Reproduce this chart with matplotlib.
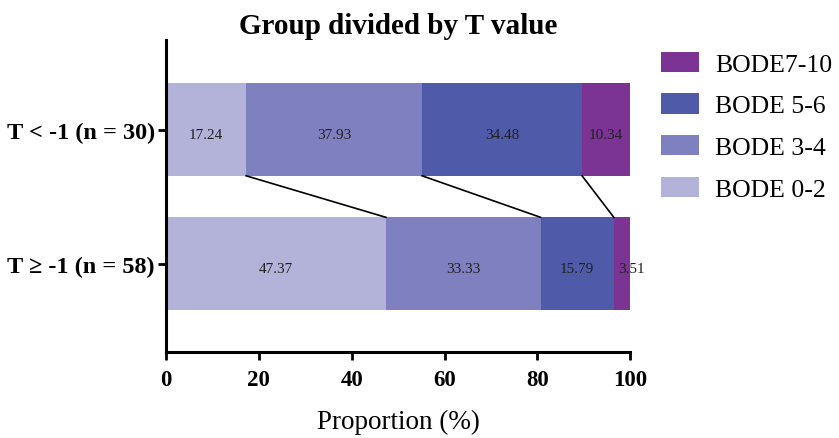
import matplotlib
matplotlib.use("Agg")
import matplotlib.pyplot as plt
import numpy as np

plt.rcParams['font.family'] = ['Liberation Serif', 'DejaVu Serif']

groups = ['T < -1 (n = 30)', 'T \u2265 -1 (n = 58)']
categories = ['BODE 0-2', 'BODE 3-4', 'BODE 5-6', 'BODE7-10']
values = {
    'BODE 0-2': [17.24, 47.37],
    'BODE 3-4': [37.93, 33.33],
    'BODE 5-6': [34.48, 15.79],
    'BODE7-10': [10.34, 3.51],
}
colors = ['#b3b2d9', '#7f80c0', '#4f5ba9', '#7b3494']

fig = plt.figure(figsize=(8.39, 4.39), dpi=100)
ax = fig.add_axes([0.198, 0.196, 0.553, 0.711])

ypos = [1, 0]
height = 0.69
left = np.zeros(2)
for cat, col in zip(categories, colors):
    vals = np.array(values[cat])
    ax.barh(ypos, vals, left=left, height=height, color=col, label=cat)
    for i in range(2):
        x = left[i] + vals[i] / 2
        if vals[i] < 5:
            x = left[i] + vals[i] + 0.3
        ax.text(x, ypos[i] - 0.04, f'{vals[i]:.2f}', ha='center', va='center',
                fontsize=11, color='#222222')
    left = left + vals

# connecting lines between cumulative boundaries
cum = np.cumsum([values[c] for c in categories], axis=0)
for k in range(3):
    ax.plot([cum[k][0], cum[k][1]], [ypos[0] - height / 2, ypos[1] + height / 2],
            color='black', lw=1.2)

ax.set_xlim(0, 100)
ax.set_ylim(-0.66, 1.67)
ax.set_xticks([0, 20, 40, 60, 80, 100])
ax.set_yticks(ypos)
ax.set_yticklabels(groups)
for lab in ax.get_xticklabels() + ax.get_yticklabels():
    lab.set_fontweight('bold')
ax.tick_params(axis='x', labelsize=16.5, width=2, length=6, pad=6)
ax.tick_params(axis='y', labelsize=17.5, width=2, length=6, pad=2)
for s in ['top', 'right']:
    ax.spines[s].set_visible(False)
for s in ['left', 'bottom']:
    ax.spines[s].set_linewidth(2.2)

ax.set_xlabel('Proportion (%)', fontsize=19.5, labelpad=14)
ax.set_title('Group divided by T value', fontsize=21, fontweight='bold', pad=5)

handles, labels = ax.get_legend_handles_labels()
ax.legend(handles[::-1], labels[::-1], loc='upper left', bbox_to_anchor=(1.045, 0.995),
          frameon=False, fontsize=18.5, handlelength=1.45, handleheight=0.85,
          labelspacing=0.68, handletextpad=0.65, borderaxespad=0)

fig.savefig('out.png', dpi=100)
